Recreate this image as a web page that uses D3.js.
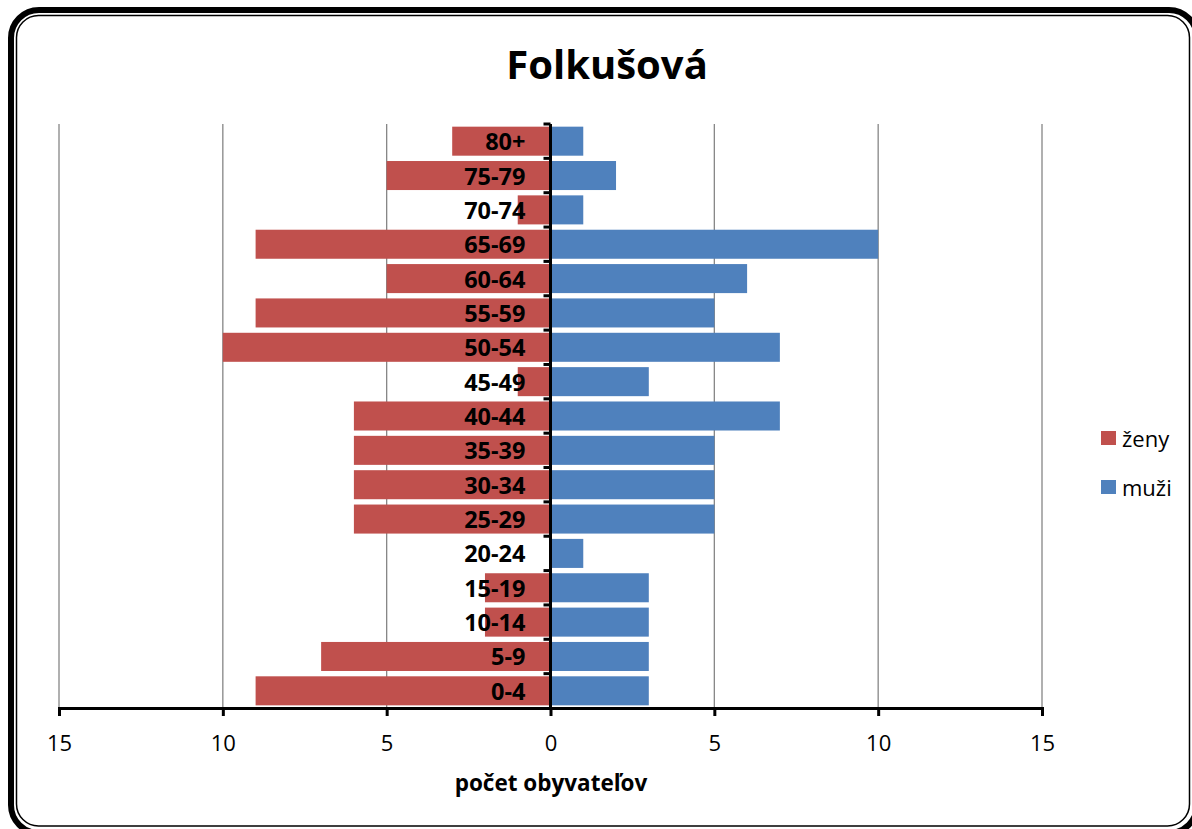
<!DOCTYPE html>
<html>
<head>
<meta charset="utf-8">
<script src="https://cdn.jsdelivr.net/npm/d3@7"></script>
<style>
	body { margin: 0; background: #fff; }
	svg text { font-family: "Open Sans", "Noto Sans", sans-serif; fill: #000; }
</style>
</head>
<body>
<div id="viz"></div>
<script>
// age groups, bottom to top
var ageGroups = ['0-4','5-9','10-14','15-19','20-24','25-29','30-34','35-39','40-44','45-49','50-54','55-59','60-64','65-69','70-74','75-79','80+'];
var zeny = [9, 7, 2, 2, 0, 6, 6, 6, 6, 1, 10, 9, 5, 9, 1, 5, 3];
var muzi = [3, 3, 3, 3, 1, 5, 5, 5, 7, 3, 7, 5, 6, 10, 1, 2, 1];
var xTicks = [-15, -10, -5, 0, 5, 10, 15];
var series = ['ženy', 'muži'];

var colors = { 'ženy': '#C0504D', 'muži': '#4F81BD' };

var width = 1192,
		height = 829,
		plotTop = 124,
		plotBottom = 708;

var svg = d3.select('#viz')
	.append('svg')
	.attr('width', width)
	.attr('height', height);

// frame: thick outer + thin inner rounded border
svg.append('rect')
	.attr('x', 11).attr('y', 10)
	.attr('width', 1186).attr('height', 823)
	.attr('rx', 28)
	.style('fill', 'none').style('stroke', '#000').style('stroke-width', 6);
svg.append('rect')
	.attr('x', 16.5).attr('y', 15.5)
	.attr('width', 1173).attr('height', 810.5)
	.attr('rx', 22)
	.style('fill', 'none').style('stroke', '#000').style('stroke-width', 1.5);

// title
svg.append('text')
	.attr('x', 607).attr('y', 79)
	.attr('text-anchor', 'middle')
	.style('font-size', '40px').style('font-weight', 'bold')
	.text('Folkušová');

var x = d3.scaleLinear()
	.domain([-15, 15])
	.range([59, 1042]);

var y = d3.scaleBand()
	.domain(ageGroups)
	.range([plotBottom, plotTop])
	.paddingInner(0.155)
	.paddingOuter(0.0775);

// gridlines
svg.append('g').selectAll('line')
	.data(xTicks.filter(function(d){ return d !== 0; }))
	.enter().append('line')
		.attr('x1', function(d){ return x(d); })
		.attr('x2', function(d){ return x(d); })
		.attr('y1', plotTop).attr('y2', plotBottom)
		.style('stroke', '#868686').style('stroke-width', 1.3);

// bars
var bars = svg.append('g');
bars.selectAll('.bar-zeny')
	.data(ageGroups)
	.enter().append('rect')
		.attr('class', 'bar-zeny')
		.attr('x', function(d,i){ return x(-zeny[i]); })
		.attr('width', function(d,i){ return x(0) - x(-zeny[i]); })
		.attr('y', function(d){ return y(d); })
		.attr('height', y.bandwidth())
		.style('fill', colors['ženy']);
bars.selectAll('.bar-muzi')
	.data(ageGroups)
	.enter().append('rect')
		.attr('class', 'bar-muzi')
		.attr('x', x(0))
		.attr('width', function(d,i){ return x(muzi[i]) - x(0); })
		.attr('y', function(d){ return y(d); })
		.attr('height', y.bandwidth())
		.style('fill', colors['muži']);

// axis X
var axisX = svg.append('g')
	.attr('transform', 'translate(0,' + plotBottom + ')')
	.call(d3.axisBottom(x).tickValues(xTicks).tickSize(8).tickFormat(function(d){ return Math.abs(d); }));
axisX.select('.domain').style('stroke', '#000').style('stroke-width', 3);
axisX.selectAll('.tick line').style('stroke', '#000').style('stroke-width', 3);
axisX.selectAll('.tick text')
	.attr('y', 27)
	.attr('dy', 0)
	.attr('dominant-baseline', 'auto')
	.attr('transform', 'translate(0,16)')
	.style('font-size', '22px').style('font-family', '"Open Sans", "Noto Sans", sans-serif');

svg.append('text')
	.attr('x', 551).attr('y', 791)
	.attr('text-anchor', 'middle')
	.style('font-size', '22.5px').style('font-weight', 'bold')
	.text('počet obyvateľov');

// axis Y (category axis at zero)
var bandStep = y.step();
var yAxis = svg.append('g');
yAxis.append('line')
	.attr('x1', x(0)).attr('x2', x(0))
	.attr('y1', plotTop).attr('y2', plotBottom)
	.style('stroke', '#000').style('stroke-width', 3);
yAxis.selectAll('.ytick')
	.data(d3.range(ageGroups.length))
	.enter().append('line')
		.attr('class', 'ytick')
		.attr('x1', x(0) - 7).attr('x2', x(0))
		.attr('y1', function(i){ return plotTop + i * bandStep; })
		.attr('y2', function(i){ return plotTop + i * bandStep; })
		.style('stroke', '#000').style('stroke-width', 3);
yAxis.selectAll('.ylabel')
	.data(ageGroups)
	.enter().append('text')
		.attr('class', 'ylabel')
		.attr('x', x(0) - 25)
		.attr('y', function(d){ return y(d) + y.bandwidth() / 2 + 9; })
		.attr('text-anchor', 'end')
		.style('font-size', '23.5px').style('font-weight', 'bold')
		.text(function(d){ return d; });

// legend
var legend = svg.append('g')
	.attr('transform', 'translate(1101,431)');
legend.selectAll('rect')
	.data(series)
	.enter().append('rect')
		.attr('x', 0)
		.attr('y', function(d,i){ return i * 49; })
		.attr('width', 15).attr('height', 14)
		.style('fill', function(d){ return colors[d]; });
legend.selectAll('text')
	.data(series)
	.enter().append('text')
		.attr('x', 21)
		.attr('y', function(d,i){ return i * 49 + 16; })
		.style('font-size', '22px')
		.text(function(d){ return d; });
</script>
</body>
</html>
